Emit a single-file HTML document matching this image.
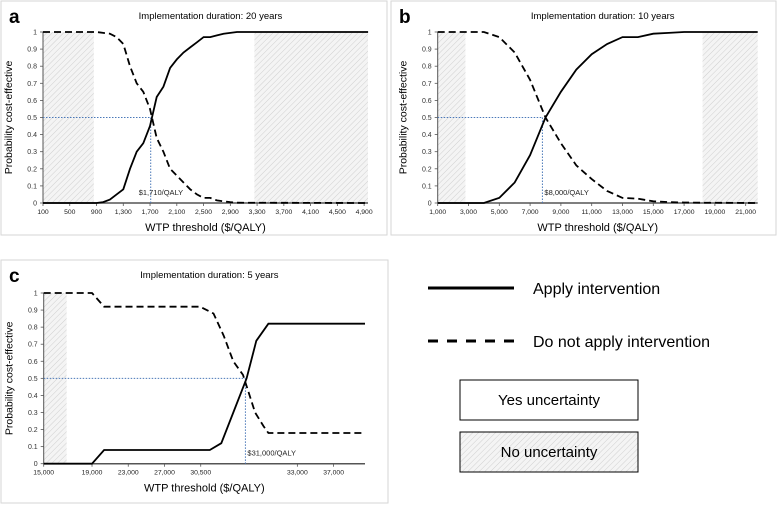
<!DOCTYPE html>
<html><head><meta charset="utf-8"><style>
html,body{margin:0;padding:0;background:#fff;}
body{width:778px;height:505px;overflow:hidden;font-family:"Liberation Sans",sans-serif;}
svg text{font-family:"Liberation Sans",sans-serif;}
</style></head><body>
<svg id="fig" width="778" height="505" viewBox="0 0 778 505" xmlns="http://www.w3.org/2000/svg">
<defs>
<pattern id="hatch" width="4" height="4" patternUnits="userSpaceOnUse" patternTransform="rotate(45)">
<rect width="4" height="4" fill="#f4f4f4"/><line x1="0" y1="0" x2="0" y2="4" stroke="#d0d0d0" stroke-width="1"/>
</pattern>
</defs>
<g id="legend">
<line x1="428" y1="288" x2="514" y2="288" stroke="#000" stroke-width="3"/>
<text x="533" y="294" font-size="16">Apply intervention</text>
<line x1="428" y1="341" x2="514" y2="341" stroke="#000" stroke-width="3" stroke-dasharray="10,9"/>
<text x="533" y="347" font-size="16">Do not apply intervention</text>
<rect x="460" y="380" width="178" height="40" fill="#fff" stroke="#000" stroke-width="1"/>
<text x="549" y="405" font-size="15" text-anchor="middle">Yes uncertainty</text>
<rect x="460" y="432" width="178" height="40" fill="url(#hatch)" stroke="#000" stroke-width="1"/>
<text x="549" y="457" font-size="15" text-anchor="middle">No uncertainty</text>
</g>
</svg>
<script>
// Panel a data (x = WTP $/QALY)
const aApplyX=[100,900,1000,1100,1200,1300,1400,1500,1600,1700,1800,1900,2000,2100,2200,2300,2400,2500,2600,2700,2800,2900,3000,4960];
const aApplyY=[0,0,0.005,0.02,0.05,0.08,0.2,0.3,0.35,0.45,0.62,0.68,0.79,0.84,0.88,0.91,0.94,0.97,0.97,0.98,0.99,0.995,1,1];
const aNotX=[100,900,1000,1100,1200,1300,1400,1500,1600,1700,1800,1900,2000,2100,2200,2300,2400,2500,2600,2700,2800,2900,3000,4960];
const aNotY=[1,1,0.995,0.99,0.97,0.93,0.8,0.7,0.65,0.55,0.38,0.3,0.2,0.16,0.12,0.08,0.05,0.03,0.03,0.015,0.01,0.005,0.002,0];
const aTicks=[100,500,900,1300,1700,2100,2500,2900,3300,3700,4100,4500,4900];
const aTickLabels=["100","500","900","1,300","1,700","2,100","2,500","2,900","3,300","3,700","4,100","4,500","4,900"];
// Panel b data
const bApplyX=[1000,2000,3000,4000,5000,6000,7000,8000,9000,10000,11000,12000,13000,14000,15000,16000,17000,21780];
const bApplyY=[0,0,0,0,0.03,0.12,0.28,0.5,0.65,0.78,0.87,0.93,0.97,0.97,0.99,0.995,1,1];
const bNotX=[1000,2000,3000,4000,5000,6000,7000,8000,9000,10000,11000,12000,13000,14000,15000,16000,17000,18000,21780];
const bNotY=[1,1,1,1,0.97,0.88,0.72,0.5,0.35,0.22,0.14,0.07,0.03,0.025,0.01,0.005,0.003,0.002,0];
const bTicks=[1000,3000,5000,7000,9000,11000,13000,15000,17000,19000,21000];
const bTickLabels=["1,000","3,000","5,000","7,000","9,000","11,000","13,000","15,000","17,000","19,000","21,000"];
// Panel c data (x = category index along axis)
const cApplyX=[0,4,5,13.75,14.7,15.7,16.8,17.6,18.6,26.6];
const cApplyY=[0,0,0.08,0.08,0.12,0.3,0.5,0.72,0.82,0.82];
const cNotX=[0,4,5,12.95,14.06,14.9,15.7,16.5,17.5,18.2,18.6,26.6];
const cNotY=[1,1,0.92,0.92,0.88,0.75,0.6,0.52,0.3,0.22,0.18,0.18];
const cTicks=[0,4,7,10,13,21,24];
const cTickLabels=["15,000","19,000","23,000","27,000","30,500","33,000","37,000"];
const yTicks=[0,0.1,0.2,0.3,0.4,0.5,0.6,0.7,0.8,0.9,1];

const NS="http://www.w3.org/2000/svg";
const svg=document.getElementById('fig');
function mk(tag,attrs,parent){const e=document.createElementNS(NS,tag);for(const k in attrs)e.setAttribute(k,attrs[k]);(parent||svg).appendChild(e);return e;}

function panel(p){
  const g=mk('g',{});
  
  
  const box=mk('rect',{x:p.bx,y:p.by,width:p.bw,height:p.bh,fill:'#fff',stroke:'#d6d6d6','stroke-width':1},g);
  
  
  const sx=v=>p.x0+(v-p.d0)/(p.d1-p.d0)*(p.x1-p.x0);
  const sy=v=>p.y0-(v)*(p.y0-p.y1);
  p.shades.forEach((s,i)=>{
    const r=mk('rect',{x:sx(s[0]),y:p.y1,width:sx(s[1])-sx(s[0]),height:p.y0-p.y1,fill:'url(#hatch)'},g);
    
    
  });
  const lt=mk('text',{x:p.bx+8,y:p.by+22,'font-size':19,'font-weight':'bold'},g);lt.textContent=p.id;
  
  
  const tt=mk('text',{x:(p.x0+p.x1)/2+5,y:p.by+18,'font-size':9.5,'text-anchor':'middle'},g);tt.textContent=p.title;
  
  
  // axes
  const ya=mk('line',{x1:p.x0,y1:p.y1,x2:p.x0,y2:p.y0,stroke:'#555','stroke-width':1},g);
  
  
  const xa=mk('line',{x1:p.x0,y1:p.y0,x2:p.x1,y2:p.y0,stroke:'#555','stroke-width':1.5},g);
  
  
  yTicks.forEach(v=>{
    mk('line',{x1:p.x0-3,y1:sy(v),x2:p.x0,y2:sy(v),stroke:'#555','stroke-width':0.8},g);
    const t=mk('text',{x:p.x0-6,y:sy(v)+2.5,'font-size':7,'text-anchor':'end',fill:'#333'},g);t.textContent=String(v);
    
    
  });
  p.ticks.forEach((v,i)=>{
    mk('line',{x1:sx(v),y1:p.y0,x2:sx(v),y2:p.y0+3,stroke:'#555','stroke-width':0.8},g);
    const t=mk('text',{x:sx(v),y:p.y0+11,'font-size':6.8,'text-anchor':'middle',fill:'#222'},g);t.textContent=p.labels[i];
    
    
  });
  const xt=mk('text',{x:(p.x0+p.x1)/2,y:p.y0+28,'font-size':11,'text-anchor':'middle'},g);xt.textContent='WTP threshold ($/QALY)';
  
  
  const yx=p.x0-31,yy=(p.y0+p.y1)/2;
  const yt=mk('text',{x:yx,y:yy,'font-size':10.5,'text-anchor':'middle',transform:'rotate(-90 '+yx+' '+yy+')'},g);yt.textContent='Probability cost-effective';
  
  
  // reference lines
  const h=mk('line',{x1:p.x0,y1:sy(0.5),x2:sx(p.cross),y2:sy(0.5),stroke:'#4a78b8','stroke-width':1,'stroke-dasharray':'1.5,1.5'},g);
  
  
  const v=mk('line',{x1:sx(p.cross),y1:sy(0.5),x2:sx(p.cross),y2:p.y0,stroke:'#4a78b8','stroke-width':1,'stroke-dasharray':'1.5,1.5'},g);
  
  
  const ct=mk('text',{x:sx(p.cross)+p.lblDx,y:p.y0-8,'font-size':7.5,fill:'#222'},g);ct.textContent=p.crossLabel;
  
  
  // series
  const path=(xs,ys)=>xs.map((x,i)=>(i?'L':'M')+sx(x).toFixed(1)+','+sy(ys[i]).toFixed(1)).join(' ');
  const s1=mk('path',{d:path(p.ax,p.ay),fill:'none',stroke:'#000','stroke-width':1.8},g);
  
  
  const s2=mk('path',{d:path(p.nx,p.ny),fill:'none',stroke:'#000','stroke-width':1.8,'stroke-dasharray':'7,4'},g);
  
  
}
panel({id:'a',title:'Implementation duration: 20 years',bx:1,by:1,bw:386,bh:234,x0:43,x1:368,y0:203,y1:32,d0:100,d1:4958,
  shades:[[100,860],[3260,4958]],ticks:aTicks,labels:aTickLabels,ax:aApplyX,ay:aApplyY,nx:aNotX,ny:aNotY,cross:1710,crossLabel:'$1,710/QALY',lblDx:-12});
panel({id:'b',title:'Implementation duration: 10 years',bx:391,by:1,bw:385,bh:234,x0:437.7,x1:757.7,y0:203,y1:32,d0:1000,d1:21780,
  shades:[[1000,2800],[18200,21780]],ticks:bTicks,labels:bTickLabels,ax:bApplyX,ay:bApplyY,nx:bNotX,ny:bNotY,cross:7800,crossLabel:'$8,000/QALY',lblDx:2});
panel({id:'c',title:'Implementation duration: 5 years',bx:1,by:260,bw:387,bh:243,x0:43.7,x1:365,y0:463.7,y1:293,d0:0,d1:26.6,
  shades:[[0,1.9]],ticks:cTicks,labels:cTickLabels,ax:cApplyX,ay:cApplyY,nx:cNotX,ny:cNotY,cross:16.7,crossLabel:'$31,000/QALY',lblDx:2});
</script>
</body></html>
